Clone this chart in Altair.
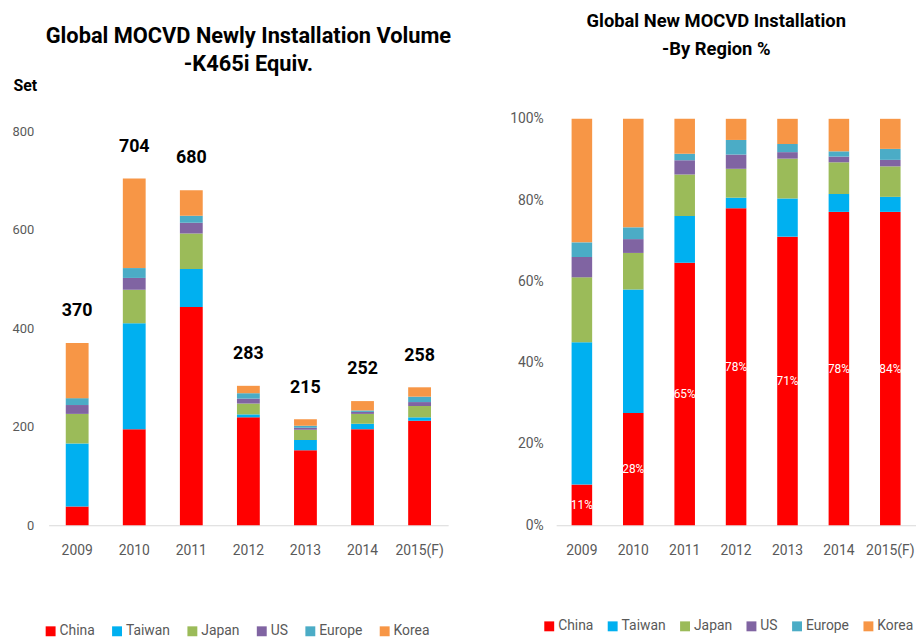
import altair as alt
import pandas as pd

years = ["2009", "2010", "2011", "2012", "2013", "2014", "2015(F)"]
regions = ["China", "Taiwan", "Japan", "US", "Europe", "Korea"]
colors = ["#FF0000", "#00B0F0", "#9BBB59", "#8064A2", "#4BACC6", "#F79646"]

# Left chart: newly installed MOCVD (sets, K465i equiv.)
vol_china = [38, 195, 443, 219, 152, 195, 212]
vol_taiwan = [128, 215, 77, 6, 21, 11, 7]
vol_japan = [60, 68, 72, 22, 21, 20, 23]
vol_us = [18, 24, 22, 10, 4, 4, 8]
vol_europe = [14, 20, 14, 11, 4, 3, 11]
vol_korea = [112, 182, 52, 15, 13, 19, 19]
vol_labels = ["370", "704", "680", "283", "215", "252", "258"]

# Right chart: share by region (%)
pct_china = [10, 27.6, 64.6, 78, 71, 77.1, 77.1]
pct_taiwan = [35, 30.4, 11.5, 2.6, 9.4, 4.4, 3.7]
pct_japan = [16, 9, 10.2, 7.1, 9.8, 7.8, 7.5]
pct_us = [5, 3.4, 3.5, 3.5, 1.6, 1.4, 1.6]
pct_europe = [3.6, 2.9, 1.6, 3.6, 2, 1.3, 2.7]
pct_korea = [30.4, 26.7, 8.6, 5.2, 6.2, 8, 7.4]
pct_labels = ["11%", "28%", "65%", "78%", "71%", "78%", "84%"]

FONT = "Roboto, Liberation Sans, sans-serif"
GRAY = "#595959"


def long_df(series):
    rows = []
    for ri, (reg, vals) in enumerate(zip(regions, series)):
        for y, v in zip(years, vals):
            rows.append({"year": y, "region": reg, "idx": ri, "value": v})
    return pd.DataFrame(rows)


vol_df = long_df([vol_china, vol_taiwan, vol_japan, vol_us, vol_europe, vol_korea])
pct_df = long_df([pct_china, pct_taiwan, pct_japan, pct_us, pct_europe, pct_korea])

vol_tot = vol_df.groupby("year", sort=False)["value"].sum().reindex(years).tolist()
vol_lab_df = pd.DataFrame({"year": years, "top": vol_tot, "label": vol_labels})
pct_lab_df = pd.DataFrame({"year": years, "mid": [c / 200 for c in pct_china], "label": pct_labels})


def xenc():
    return alt.X(
        "year:N", sort=years,
        scale=alt.Scale(paddingInner=0.6, paddingOuter=0.3),
        axis=alt.Axis(title=None, labelAngle=0, ticks=False, domainColor="#D9D9D9",
                      labelColor=GRAY, labelFont=FONT, labelFontSize=14, labelPadding=19),
    )


def colorenc(lx, ly, cp):
    return alt.Color(
        "region:N",
        scale=alt.Scale(domain=regions, range=colors),
        legend=alt.Legend(title=None, orient="none", legendX=lx, legendY=ly,
                          direction="horizontal", symbolType="square", symbolSize=100,
                          symbolStrokeWidth=0, labelFont=FONT, labelFontSize=14,
                          labelColor=GRAY, columnPadding=cp, labelOffset=2),
    )


left_bars = alt.Chart(vol_df).mark_bar().encode(
    x=xenc(),
    y=alt.Y("value:Q", stack="zero",
            scale=alt.Scale(domain=[0, 825], nice=False),
            axis=alt.Axis(values=[0, 200, 400, 600, 800], grid=False, ticks=False, domain=False,
                          labelColor=GRAY, labelFont=FONT, labelFontSize=13, labelPadding=15,
                          title="Set", titleAngle=0, titleAlign="left", titleBaseline="middle",
                          titleX=-36, titleY=-34, titleFont=FONT, titleFontSize=16,
                          titleFontWeight="bold", titleColor="#000000")),
    color=colorenc(-5, 510, 15),
    order=alt.Order("idx:Q"),
)
left_text = alt.Chart(vol_lab_df).mark_text(
    baseline="bottom", font=FONT, fontSize=18, fontWeight="bold", color="#000000"
).encode(x=alt.X("year:N", sort=years), y=alt.Y("top:Q"), yOffset=alt.value(-23),
         text="label:N")

left = alt.layer(left_bars, left_text).properties(
    width=403, height=410,
    title=alt.TitleParams(["Global MOCVD  Newly Installation Volume", "-K465i Equiv."],
                          font=FONT, fontSize=22, fontWeight="bold", color="#000000",
                          anchor="middle", offset=1, lineHeight=28),
)

right_bars = alt.Chart(pct_df).mark_bar().encode(
    x=xenc(),
    y=alt.Y("value:Q", stack="normalize",
            scale=alt.Scale(domain=[0, 1], nice=False),
            axis=alt.Axis(values=[0, 0.2, 0.4, 0.6, 0.8, 1.0], format=".0%", grid=False,
                          ticks=False, domain=False, title=None, labelColor=GRAY,
                          labelFont=FONT, labelFontSize=14, labelPadding=13)),
    color=colorenc(-14, 505, 12),
    order=alt.Order("idx:Q"),
)
right_text = alt.Chart(pct_lab_df).mark_text(
    baseline="middle", font=FONT, fontSize=12, color="#FFFFFF"
).encode(x=alt.X("year:N", sort=years), y=alt.Y("mid:Q"), text="label:N")

right = alt.layer(right_bars, right_text).properties(
    width=363, height=410,
    title=alt.TitleParams(["Global New MOCVD Installation", "-By Region %"],
                          font=FONT, fontSize=18.5, fontWeight="bold", color="#000000",
                          anchor="middle", offset=54, lineHeight=28, dx=-20),
)

chart = alt.hconcat(left, right, spacing=56).resolve_scale(color="independent").resolve_legend(
    color="independent"
).configure_view(stroke=None).properties(padding={"left": 4, "top": 1, "right": 0, "bottom": 0})

chart.save("out.html", embed_options={"renderer": "svg", "actions": False})
